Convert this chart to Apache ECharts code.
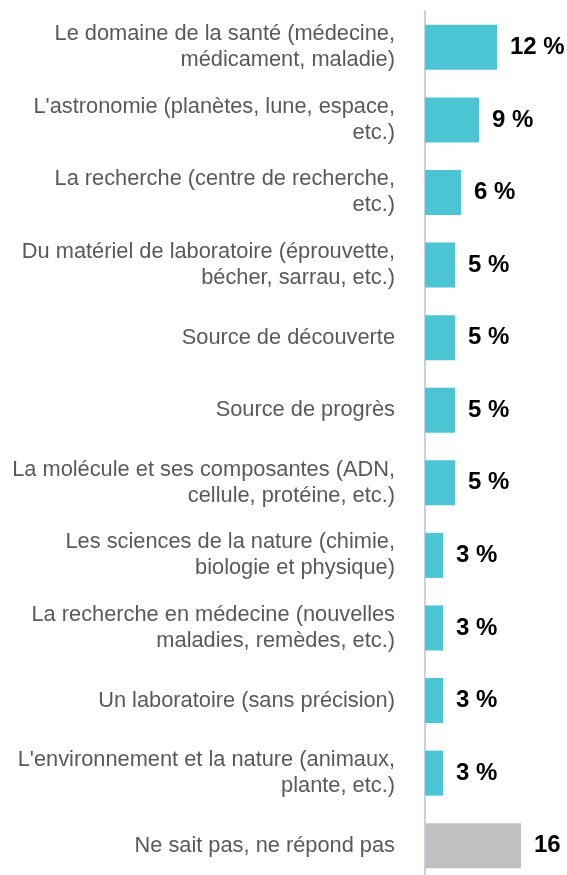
<!DOCTYPE html>
<html>
<head>
<meta charset="utf-8">
<script src="https://cdn.jsdelivr.net/npm/echarts@6/dist/echarts.min.js"></script>
<style>
  html, body { margin: 0; padding: 0; background: #fff; }
  #chart { width: 567px; height: 875px; }
</style>
</head>
<body>
<div id="chart"></div>
<script>
const categories = [
  'Le domaine de la santé (médecine,\nmédicament, maladie)',
  "L'astronomie (planètes, lune, espace,\netc.)",
  'La recherche (centre de recherche,\netc.)',
  'Du matériel de laboratoire (éprouvette,\nbécher, sarrau, etc.)',
  'Source de découverte',
  'Source de progrès',
  'La molécule et ses composantes (ADN,\ncellule, protéine, etc.)',
  'Les sciences de la nature (chimie,\nbiologie et physique)',
  'La recherche en médecine (nouvelles\nmaladies, remèdes, etc.)',
  'Un laboratoire (sans précision)',
  "L'environnement et la nature (animaux,\nplante, etc.)",
  'Ne sait pas, ne répond pas'
];
const values = [12, 9, 6, 5, 5, 5, 5, 3, 3, 3, 3, 16];
const valueLabels = ['12 %', '9 %', '6 %', '5 %', '5 %', '5 %', '5 %', '3 %', '3 %', '3 %', '3 %', '16'];
const barColors = ['#4bc4d4', '#4bc4d4', '#4bc4d4', '#4bc4d4', '#4bc4d4', '#4bc4d4',
  '#4bc4d4', '#4bc4d4', '#4bc4d4', '#4bc4d4', '#4bc4d4', '#c0c0c0'];

const chart = echarts.init(document.getElementById('chart'));
chart.setOption({
  animation: false,
  grid: { left: 425, top: 11, width: 120, height: 871, outerBoundsMode: 'none', containLabel: false },
  xAxis: {
    type: 'value', min: 0, max: 20, show: false
  },
  yAxis: {
    type: 'category',
    inverse: true,
    data: categories,
    axisLine: { show: true, lineStyle: { color: '#c9cfe8', width: 2 } },
    axisTick: { show: false },
    axisLabel: {
      margin: 30,
      color: '#595959',
      fontFamily: 'Liberation Sans, Arial, sans-serif',
      fontSize: 21.8,
      lineHeight: 26,
      align: 'right'
    }
  },
  series: [{
    type: 'bar',
    barWidth: 45,
    data: values.map((v, i) => ({
      value: v,
      itemStyle: { color: barColors[i] },
      label: { formatter: valueLabels[i] }
    })),
    label: {
      show: true,
      position: 'right',
      distance: 13,
      color: '#000',
      fontFamily: 'Liberation Sans, Arial, sans-serif',
      fontWeight: 'bold',
      fontSize: 24
    }
  }]
});
</script>
</body>
</html>
